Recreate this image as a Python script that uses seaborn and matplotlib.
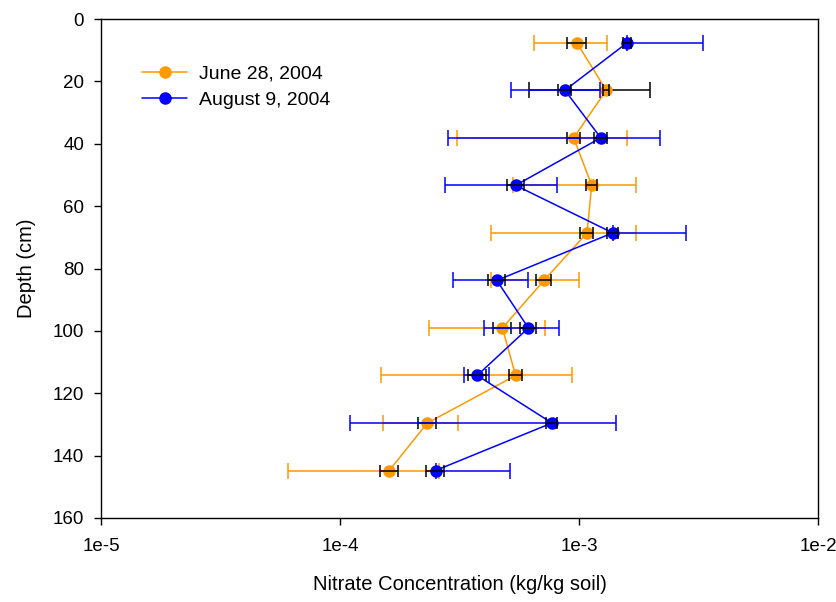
import numpy as np
import pandas as pd
import matplotlib
matplotlib.use("Agg")
import matplotlib.pyplot as plt
from matplotlib.ticker import FixedLocator, FuncFormatter, NullLocator
import seaborn as sns

# Sampling depths (cm), 3-inch intervals
depth = [7.62, 22.86, 38.1, 53.34, 68.58, 83.82, 99.06, 114.3, 129.54, 144.78]

# June 28, 2004: mean, standard deviation, standard error (kg/kg soil)
june_mean = [9.8e-4, 1.30e-3, 9.5e-4, 1.13e-3, 1.08e-3, 7.14e-4, 4.78e-4, 5.43e-4, 2.32e-4, 1.607e-4]
june_sd = [3.3e-4, 6.8e-4, 6.4e-4, 6.0e-4, 6.5e-4, 2.87e-4, 2.43e-4, 3.94e-4, 8.0e-5, 1.0e-4]
june_se = [8.5e-5, 4.0e-5, 5.8e-5, 5.7e-5, 6.6e-5, 5.0e-5, 4.1e-5, 3.3e-5, 2.05e-5, 1.4e-5]

# August 9, 2004
aug_mean = [1.59e-3, 8.73e-4, 1.233e-3, 5.43e-4, 1.384e-3, 4.53e-4, 6.14e-4, 3.75e-4, 7.7e-4, 2.51e-4]
aug_sd = [1.72e-3, 3.55e-4, 9.5e-4, 2.68e-4, 1.43e-3, 1.57e-4, 2.13e-4, 4.6e-5, 6.6e-4, 2.63e-4]
aug_se = [6.8e-5, 5.6e-5, 7.5e-5, 4.5e-5, 7.8e-5, 3.8e-5, 5.0e-5, 3.2e-5, 3.9e-5, 2.1e-5]

labels = ["June 28, 2004", "August 9, 2004"]
x_ticks = [1e-5, 1e-4, 1e-3, 1e-2]
y_ticks = [0, 20, 40, 60, 80, 100, 120, 140, 160]

ORANGE = "#ff9900"
BLUE = "#0000ff"

sns.set_style("ticks")
plt.rcParams["font.family"] = ["Liberation Sans", "DejaVu Sans"]
plt.rcParams["text.color"] = "black"
plt.rcParams["axes.labelcolor"] = "black"

fig = plt.figure(figsize=(8.37, 6.02), dpi=100)
ax = fig.add_axes([101 / 837, 1 - 518 / 602, 717 / 837, 499 / 602])
ax.set_xscale("log", nonpositive="mask")


def lower_err(mean, sd):
    # a lower bound at or below zero cannot be shown on a log axis
    mean = np.asarray(mean)
    sd = np.asarray(sd)
    return np.where(sd < mean, sd, 0.0)


def draw_series(mean, sd, se, color, label, z, sd_colors=None):
    mean_a = np.asarray(mean)
    sd_a = np.asarray(sd)
    dep = np.asarray(depth)
    lo = lower_err(mean_a, sd_a)
    if sd_colors is None:
        sd_colors = [color] * len(mean_a)
    for c in dict.fromkeys(sd_colors):
        idx = np.array([i for i, cc in enumerate(sd_colors) if cc == c])
        ax.errorbar(mean_a[idx], dep[idx], xerr=[lo[idx], sd_a[idx]], fmt="none",
                    ecolor=c, elinewidth=1.1, capsize=5.5, capthick=1.1, zorder=z)
    df = pd.DataFrame({"conc": mean_a, "depth": dep})
    sns.lineplot(data=df, x="conc", y="depth", sort=False, estimator=None, ax=ax,
                 color=color, linewidth=1.1, marker="o", markersize=9,
                 markeredgewidth=0, label=label, zorder=z + 0.3)
    ax.errorbar(mean_a, dep, xerr=se, fmt="none", ecolor="black", elinewidth=1.1,
                capsize=4.5, capthick=1.1, zorder=z + 0.6)


june_sd_colors = [ORANGE] * len(depth)
june_sd_colors[1] = "black"
draw_series(june_mean, june_sd, june_se, ORANGE, labels[0], 2, june_sd_colors)
draw_series(aug_mean, aug_sd, aug_se, BLUE, labels[1], 3)

ax.set_xlim(1e-5, 1e-2)
ax.set_ylim(160, 0)
ax.xaxis.set_major_locator(FixedLocator(x_ticks))
ax.xaxis.set_minor_locator(NullLocator())
ax.xaxis.set_major_formatter(FuncFormatter(lambda v, p: f"1e{int(round(np.log10(v)))}"))
ax.yaxis.set_major_locator(FixedLocator(y_ticks))

for s in ax.spines.values():
    s.set_visible(True)
    s.set_color("black")
    s.set_linewidth(1.0)
ax.tick_params(direction="out", length=5, width=1, labelsize=13.5, colors="black")
ax.tick_params(axis="x", pad=9.5)
ax.tick_params(axis="y", pad=7.2)

ax.set_xlabel("Nitrate Concentration (kg/kg soil)", fontsize=14.5, labelpad=14)
ax.set_ylabel("Depth (cm)", fontsize=14.5, labelpad=12)

ax.legend(loc="upper left", bbox_to_anchor=(0.0576, 0.908), frameon=False,
          fontsize=14, handlelength=2.32, handletextpad=0.6, labelspacing=0.45,
          borderaxespad=0, borderpad=0)

fig.savefig("out.png", dpi=100)
